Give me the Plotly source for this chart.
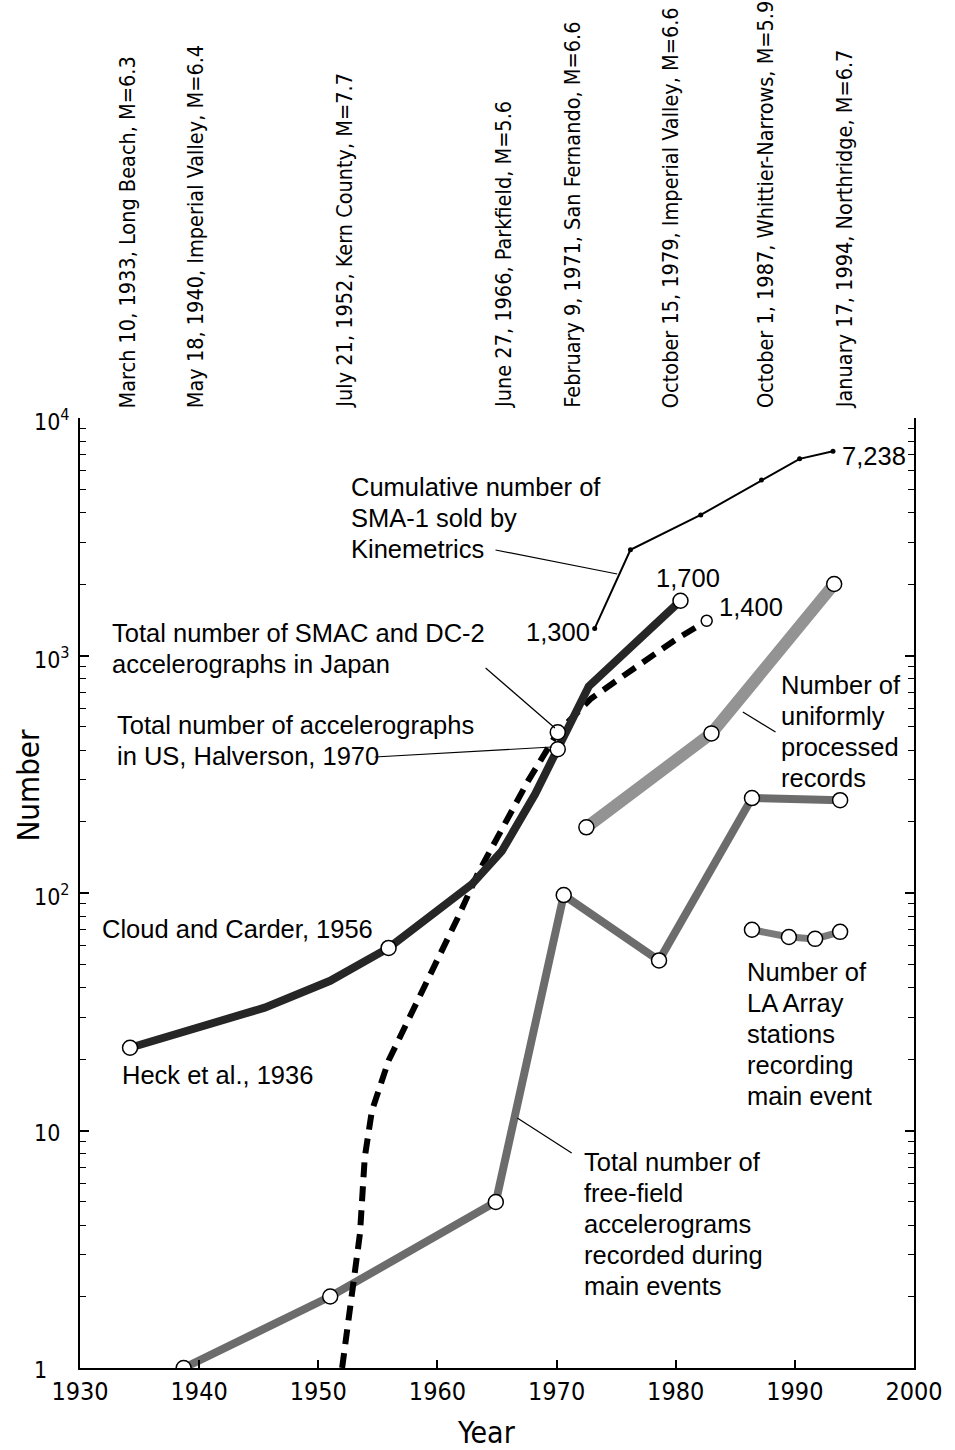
import plotly.graph_objects as go
import math

# ---------------- data ----------------
us_years = [1934.2, 1940.0, 1945.5, 1951.0, 1953.8, 1955.9, 1962.9, 1965.4, 1968.2, 1970.1, 1972.7, 1980.4]
us_values = [22.3, 27.1, 32.9, 42.7, 51.8, 58.7, 109, 150, 261, 403, 741, 1700]
us_mark_years = [1934.2, 1955.9, 1970.1, 1980.4]
us_mark_values = [22.3, 58.7, 403, 1700]

jp_years = [1952.0, 1952.8, 1953.5, 1953.9, 1954.5, 1955.9, 1957.8, 1959.7, 1961.7, 1963.4, 1965.7, 1967.6, 1970.1, 1972.9, 1976.5, 1980.0, 1982.6]
jp_values = [1.0, 1.99, 3.69, 7.7, 12.1, 19.7, 31, 48.4, 78.5, 121, 195, 296, 475, 659, 882, 1167, 1400]
jp_mark_years = [1970.1]
jp_mark_values = [475]
jp_end_year = [1982.6]
jp_end_value = [1400]

sma_years = [1973.2, 1976.2, 1982.1, 1987.2, 1990.4, 1993.2]
sma_values = [1300, 2785, 3908, 5480, 6730, 7238]

ff_years = [1938.7, 1951.0, 1964.9, 1970.6, 1978.6, 1986.4, 1993.8]
ff_values = [1, 2, 5, 98, 52, 251, 246]

up_years = [1972.5, 1983.0, 1993.3]
up_values = [189, 470, 2000]

la_years = [1986.4, 1989.5, 1991.7, 1993.8]
la_values = [70, 65.3, 64.1, 68.6]

event_labels = [
    "March 10, 1933, Long Beach, M=6.3",
    "May 18, 1940, Imperial Valley, M=6.4",
    "July 21, 1952, Kern County, M=7.7",
    "June 27, 1966, Parkfield, M=5.6",
    "February 9, 1971, San Fernando, M=6.6",
    "October 15, 1979, Imperial Valley, M=6.6",
    "October 1, 1987, Whittier-Narrows, M=5.9",
    "January 17, 1994, Northridge, M=6.7",
]
x_tickvals = [1930, 1940, 1950, 1960, 1970, 1980, 1990, 2000]
y_tickvals = [1, 10, 100, 1000, 10000]
y_ticktext = ["1", "10", "10<sup>2</sup>", "10<sup>3</sup>", "10<sup>4</sup>"]

# ---------------- layout geometry ----------------
W, H = 955, 1450
L, R, T, B = 80, 923, 418, 1368


def px(x):
    return (x - L) / (R - L)


def py(y):
    return (B - y) / (B - T)


REG = "Liberation Sans, Arial, Helvetica, sans-serif"
NAR = "DejaVu Sans Condensed, Liberation Sans Narrow, sans-serif"

fig = go.Figure()

circle = dict(symbol="circle", size=15, color="white", line=dict(color="black", width=1.5))

# free-field (gray)
fig.add_trace(go.Scatter(x=ff_years, y=ff_values, mode="lines",
                         line=dict(color="#6c6c6c", width=8), showlegend=False))
# uniformly processed (light gray)
fig.add_trace(go.Scatter(x=up_years, y=up_values, mode="lines",
                         line=dict(color="#939393", width=12), showlegend=False))
# LA array
fig.add_trace(go.Scatter(x=la_years, y=la_values, mode="lines",
                         line=dict(color="#7a7a7a", width=7), showlegend=False))
# Japan dashed
fig.add_trace(go.Scatter(x=jp_years, y=jp_values, mode="lines",
                         line=dict(color="black", width=6, dash="15px,9px"), showlegend=False))
# US thick dark
fig.add_trace(go.Scatter(x=us_years, y=us_values, mode="lines",
                         line=dict(color="#262626", width=8), showlegend=False))
# SMA-1 thin
fig.add_trace(go.Scatter(x=sma_years, y=sma_values, mode="lines+markers",
                         line=dict(color="black", width=2),
                         marker=dict(size=5, color="black"), showlegend=False))

# markers
for xs, ys, sz in [(ff_years, ff_values, 15), (up_years, up_values, 15), (la_years, la_values, 15),
                   (us_mark_years, us_mark_values, 15), (jp_mark_years, jp_mark_values, 15),
                   (jp_end_year, jp_end_value, 11)]:
    m = dict(circle)
    m["size"] = sz
    fig.add_trace(go.Scatter(x=xs, y=ys, mode="markers", marker=m, showlegend=False))

annotations = []

# rotated event labels
event_px = [128, 197, 347, 508, 577, 677, 773, 853]
for lab, xp in zip(event_labels, event_px):
    annotations.append(dict(text=lab, x=px(xp), y=py(410), xref="paper", yref="paper",
                            textangle=-90, xanchor="center", yanchor="bottom", showarrow=False,
                            font=dict(family=NAR, size=21.5, color="black")))

SZ = 25.5
LS = 31


def note(text, x, y, xanchor="left"):
    for i, line in enumerate(text.split("\n")):
        annotations.append(dict(text=line, x=px(x - 3 if xanchor == "left" else x + 3),
                                y=py(y + i * LS), xref="paper", yref="paper",
                                xanchor=xanchor, yanchor="middle", showarrow=False,
                                font=dict(family=REG, size=SZ, color="black")))


note("Cumulative number of\nSMA-1 sold by\nKinemetrics", 355, 487)
note("1,300", 595, 632, xanchor="right")
note("1,700", 663, 578)
note("1,400", 727, 607)
note("7,238", 851, 456)
note("Total number of SMAC and DC-2\naccelerographs in Japan", 113, 633)
note("Total number of accelerographs\nin US, Halverson, 1970", 118, 725)
note("Number of\nuniformly\nprocessed\nrecords", 790, 685)
note("Cloud and Carder, 1956", 103, 929)
note("Heck et al., 1936", 123, 1075)
note("Number of\nLA Array\nstations\nrecording\nmain event", 755, 972)
note("Total number of\nfree-field\naccelerograms\nrecorded during\nmain events", 590, 1162)

# y tick labels (left aligned like the reference)
for v, t in zip(y_tickvals, y_ticktext):
    annotations.append(dict(text=t, x=px(31), y=math.log10(v), xref="paper", yref="y",
                            xanchor="left", yanchor="middle", showarrow=False, yshift=-2,
                            font=dict(family=NAR, size=23, color="black")))

# axis titles
annotations.append(dict(text="Year", x=px(491), y=py(1432), xref="paper", yref="paper",
                        xanchor="center", yanchor="middle", showarrow=False,
                        font=dict(family=NAR, size=30, color="black")))
annotations.append(dict(text="Number", x=px(27), y=py(785), xref="paper", yref="paper",
                        xanchor="center", yanchor="middle", showarrow=False, textangle=-90,
                        font=dict(family=NAR, size=31, color="black")))

# leader lines
leaders = [
    (500, 550, 623, 574),
    (490, 668, 560, 728),
    (378, 757, 557, 747),
    (750, 712, 783, 732),
    (522, 1118, 577, 1153),
]
shapes = []
for x0, y0, x1, y1 in leaders:
    shapes.append(dict(type="line", xref="paper", yref="paper",
                       x0=px(x0), y0=py(y0), x1=px(x1), y1=py(y1),
                       line=dict(color="black", width=1.2)))

minor_vals = [k * 10 ** d for d in range(4) for k in range(2, 10)]

fig.update_layout(
    width=W, height=H,
    margin=dict(l=L, r=W - R, t=T, b=H - B),
    paper_bgcolor="white", plot_bgcolor="white",
    annotations=annotations, shapes=shapes,
    xaxis=dict(range=[1930, 2000], tickvals=x_tickvals, ticks="inside", ticklen=8,
               tickwidth=1.5, tickcolor="black", showline=True, linecolor="black", linewidth=2,
               showgrid=False, zeroline=False, mirror=False,
               tickfont=dict(family=NAR, size=25, color="black")),
    yaxis=dict(type="log", range=[0, 4], tickvals=y_tickvals, showticklabels=False,
               ticks="inside", ticklen=9, tickwidth=1.5, tickcolor="black",
               showline=True, linecolor="black", linewidth=2, mirror="ticks",
               showgrid=False, zeroline=False,
               minor=dict(tickvals=minor_vals, ticks="inside", ticklen=6, tickwidth=1.2,
                          tickcolor="black", showgrid=False)),
)

fig.write_html("out.html")
